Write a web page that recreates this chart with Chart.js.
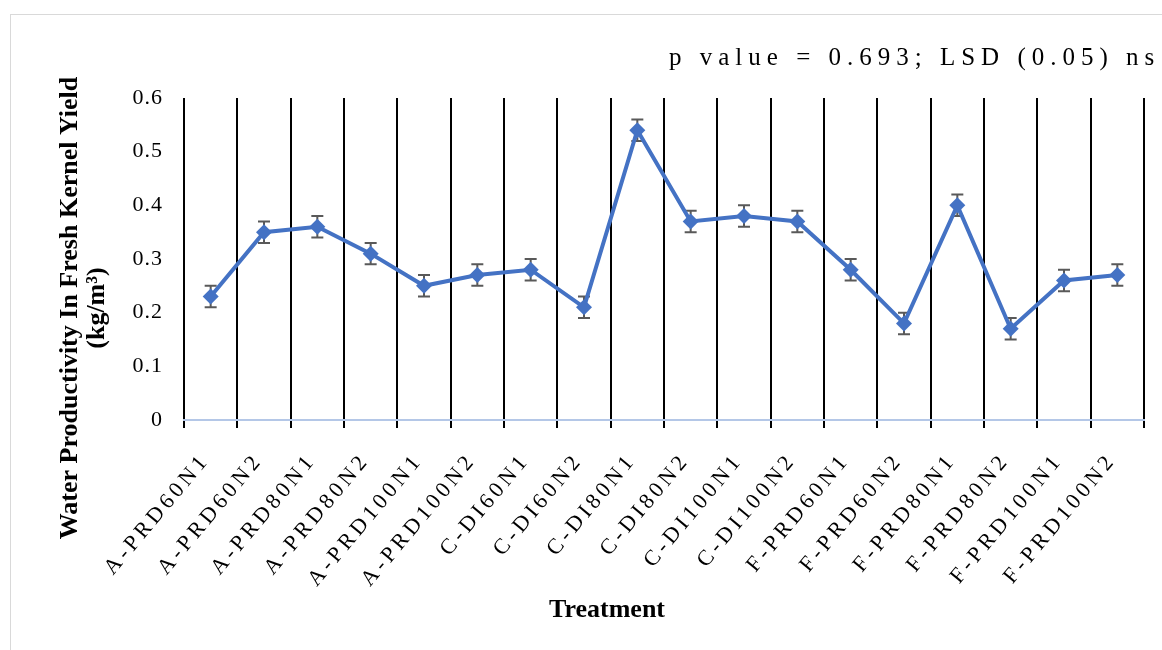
<!DOCTYPE html>
<html>
<head>
<meta charset="utf-8">
<script src="https://cdn.jsdelivr.net/npm/chart.js@4.4.0/dist/chart.umd.min.js"></script>
<style>
body { margin: 0; background: #fff; }
#frame { position: absolute; left: 10px; top: 14px; width: 1200px; height: 700px; border: 1px solid #d9d9d9; }
canvas { position: absolute; left: 0; top: 0; }
</style>
</head>
<body>
<div id="frame"></div>
<canvas id="myChart" width="1162" height="650"></canvas>
<script>
const treatments = [
    'A-PRD60N1', 'A-PRD60N2', 'A-PRD80N1', 'A-PRD80N2', 'A-PRD100N1', 'A-PRD100N2',
    'C-DI60N1', 'C-DI60N2', 'C-DI80N1', 'C-DI80N2', 'C-DI100N1', 'C-DI100N2',
    'F-PRD60N1', 'F-PRD60N2', 'F-PRD80N1', 'F-PRD80N2', 'F-PRD100N1', 'F-PRD100N2'
];
const waterProductivity = [0.23, 0.35, 0.36, 0.31, 0.25, 0.27, 0.28, 0.21, 0.54, 0.37, 0.38, 0.37, 0.28, 0.18, 0.40, 0.17, 0.26, 0.27];
const errors = [0.02, 0.02, 0.02, 0.02, 0.02, 0.02, 0.02, 0.02, 0.02, 0.02, 0.02, 0.02, 0.02, 0.02, 0.02, 0.02, 0.02, 0.02];
const yTickLabels = ['0', '0.1', '0.2', '0.3', '0.4', '0.5', '0.6'];

const serif = 'Liberation Serif, Times New Roman, serif';

// y labels drawn before datasets, x labels (z: 1) after them
const spacing = {
    id: 'spacing',
    beforeDraw(chart) { chart.ctx.letterSpacing = '1px'; },
    beforeDatasetsDraw(chart) { chart.ctx.letterSpacing = '0px'; },
    afterDatasetsDraw(chart) { chart.ctx.letterSpacing = '4px'; }
};

const errorBars = {
    id: 'errorBars',
    beforeDatasetsDraw(chart) {
        const ctx = chart.ctx;
        const meta = chart.getDatasetMeta(0);
        const y = chart.scales.y;
        ctx.save();
        ctx.strokeStyle = '#595959';
        ctx.lineWidth = 2;
        meta.data.forEach((pt, i) => {
            const v = waterProductivity[i];
            const top = y.getPixelForValue(v + errors[i]);
            const bot = y.getPixelForValue(v - errors[i]);
            ctx.beginPath();
            ctx.moveTo(pt.x, top); ctx.lineTo(pt.x, bot);
            ctx.moveTo(pt.x - 6, top); ctx.lineTo(pt.x + 6, top);
            ctx.moveTo(pt.x - 6, bot); ctx.lineTo(pt.x + 6, bot);
            ctx.stroke();
        });
        ctx.restore();
    }
};

const titles = {
    id: 'titles',
    afterDraw(chart) {
        const ctx = chart.ctx;
        ctx.save();
        ctx.fillStyle = '#000';
        ctx.letterSpacing = '0px';
        ctx.font = 'bold 26px ' + serif;
        ctx.textAlign = 'center';
        ctx.textBaseline = 'alphabetic';
        ctx.fillText('Treatment', 607, 617);

        ctx.save();
        ctx.translate(0, 308);
        ctx.rotate(-Math.PI / 2);
        ctx.textBaseline = 'middle';
        ctx.fillText('Water Productivity In Fresh Kernel Yield', 0, 70);
        ctx.fillText('(kg/m³)', 0, 97);
        ctx.restore();

        ctx.font = '25px ' + serif;
        ctx.letterSpacing = '6px';
        ctx.textAlign = 'left';
        ctx.fillText('p value = 0.693; LSD (0.05) ns', 669, 65);
        ctx.restore();
    }
};

const ctx = document.getElementById('myChart');

const data = {
    labels: treatments,
    datasets: [
        {
            label: 'Water productivity',
            data: waterProductivity,
            borderColor: '#4472C4',
            backgroundColor: '#4472C4',
            borderWidth: 4,
            pointStyle: 'rectRot',
            pointRadius: 8,
            pointBorderWidth: 0,
            tension: 0
        }
    ]
};

const config = {
    type: 'line',
    data: data,
    options: {
        responsive: false,
        animation: false,
        layout: { padding: { top: 98, right: 18, left: 0, bottom: 0 } },
        plugins: {
            legend: { display: false },
            tooltip: { enabled: false }
        },
        scales: {
            x: {
                offset: true,
                grid: { offset: true, color: '#000', lineWidth: 2, tickLength: 8 },
                border: { color: '#B4C7E7', width: 2 },
                ticks: {
                    z: 1,
                    color: '#000',
                    font: { family: serif, size: 22 },
                    minRotation: 50,
                    maxRotation: 50,
                    autoSkip: false,
                    padding: 20,
                    labelOffset: -5
                },
                afterFit(scale) { scale.height = 230; }
            },
            y: {
                min: 0,
                max: 0.6,
                grid: { display: false },
                border: { display: false },
                ticks: {
                    stepSize: 0.1,
                    color: '#000',
                    font: { family: serif, size: 22 },
                    padding: 13,
                    callback: (v, i) => yTickLabels[i]
                },
                afterFit(scale) { scale.width = 184; }
            }
        }
    },
    plugins: [spacing, errorBars, titles]
};
const myChart = new Chart(ctx, config);
</script>
</body>
</html>
